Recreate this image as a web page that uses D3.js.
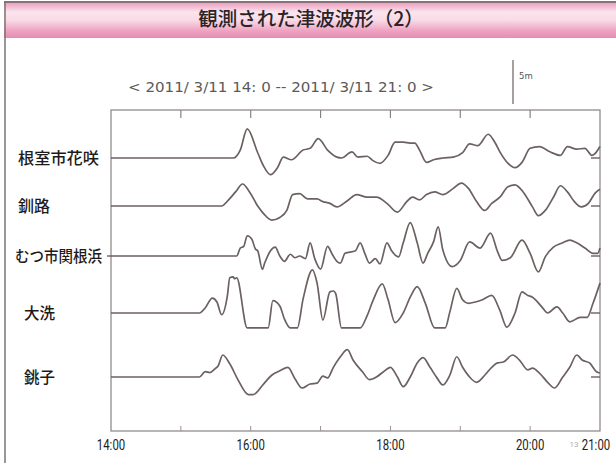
<!DOCTYPE html>
<html>
<head>
<meta charset="utf-8">
<script src="https://cdn.jsdelivr.net/npm/d3@7/dist/d3.min.js"></script>
<style>
  html, body { margin: 0; padding: 0; background: #fff; }
  svg { display: block; }
</style>
</head>
<body>
<svg id="chart" width="616" height="463"></svg>
<script>
// Observed tsunami waveforms, 2011-03-11 14:00 – 21:00.
// Each series: [minutes after 14:00, sea-level deviation in metres]
const stations = ["根室市花咲", "釧路", "むつ市関根浜", "大洗", "銚子"];

const nemuro = [[0,0],[105,0],[111,0.9],[117,3.3],[126,0.6],[131,-0.9],[137,-1.9],[143,-1.1],[148,0.1],
  [155,-0.2],[165,0.9],[171,1.1],[178,2.2],[186,0.9],[194,0.1],[198,0],[207,0.7],[212,0.1],[220,0.2],
  [225,-0.3],[231,-0.6],[238,0.3],[244,1.8],[251,1.8],[257,1.7],[261,1.7],[265,0.9],[271,-0.5],[277,-0.2],
  [285,0],[294,0.1],[302,0.6],[308,1.6],[315,1.4],[324,2.7],[330,1.7],[334,0.7],[341,-0.6],[347,-1.1],
  [353,-0.5],[360,1.1],[368,1.3],[377,0.7],[386,0.3],[392,1.3],[400,1.0],[407,1.1],[413,0.3],[417,0.7],[420,1.3]];

const kushiro = [[0,0],[95,0],[101,0.7],[107,1.6],[113,2.5],[119,1.6],[126,0],[132,-1.0],[138,-1.6],[145,-1.3],
  [151,-0.5],[156,1.3],[162,1.4],[169,0.8],[177,0.8],[182,0.5],[188,0.3],[194,-0.1],[203,0.6],[211,1.3],
  [220,1.0],[228,1.0],[237,0.3],[246,-0.7],[254,0.5],[259,1.0],[265,0.7],[271,1.3],[278,1.6],[285,1.3],
  [294,2.0],[301,2.6],[307,2.0],[314,0.5],[321,-0.5],[327,0.3],[334,1.0],[341,2.2],[347,2.4],[354,1.6],
  [362,-0.1],[367,-1.1],[373,-0.5],[380,1.0],[386,2.3],[392,1.6],[398,0.5],[404,-0.1],[410,0.3],[416,1.5],[420,1.9]];

const mutsu = [[0,0],[108,0],[111,0.9],[114,1.1],[117,2.3],[121,1.9],[124,0.8],[126,0.6],[130,-1.5],[132,-0.8],
  [137,0.6],[141,1.0],[145,0],[149,-0.6],[154,0.2],[158,-0.2],[162,0],[167,-0.3],[171,1.5],[175,-0.3],
  [180,-1.5],[186,1.1],[190,0.2],[194,-0.6],[197,-0.8],[201,0.3],[210,0.6],[214,1.5],[218,0.3],[222,-0.8],
  [227,-0.3],[231,-0.9],[237,1.5],[241,0.6],[247,-0.1],[251,1.5],[257,3.8],[263,1.5],[268,-0.8],[272,0.3],
  [277,1.6],[281,3.3],[285,0.7],[293,-1.2],[300,-0.5],[308,1.6],[317,0.9],[326,2.6],[332,0.5],[336,-0.5],
  [343,-0.2],[353,1.8],[360,0.3],[367,-1.8],[373,-0.1],[380,1.0],[388,1.5],[394,1.8],[400,1.5],[407,0.9],
  [414,0.3],[418,0.3],[420,0.9]];

const oarai = [[0,0],[76,0],[81,0.6],[87,1.7],[91,1.25],[95,-0.2],[100,2.0],[102,4.0],[105,4.1],[106,3.9],
  [108,4.0],[117,-1.7],[135,-1.7],[139,1.4],[145,0.8],[149,-0.7],[154,-1.7],[160,-1.7],[165,1.6],[173,4.9],
  [177,3.4],[182,-0.8],[188,2.4],[191,2.5],[193,2.2],[198,-1.7],[214,-1.7],[220,-0.3],[225,1.4],[233,3.3],
  [238,1.5],[244,-1.1],[251,0],[257,1.8],[263,3.0],[270,1.1],[278,-1.7],[287,-1.7],[291,0.1],[297,2.8],
  [302,1.5],[307,1.1],[313,1.25],[319,1.5],[327,2.0],[334,0.3],[340,-1.6],[347,0],[353,2.4],[358,2.0],
  [362,1.8],[370,0.7],[375,0],[383,0.7],[388,0],[394,-1.0],[403,-0.5],[409,-0.5],[414,1.1],[420,3.4]];

const choshi = [[0,0],[76,0],[81,0.6],[85,0.5],[89,0.9],[92,1.25],[96,2.5],[102,1.5],[109,-0.3],[118,-2.0],
  [122,-2.0],[131,-0.8],[138,0.2],[145,0.7],[152,1.1],[158,-0.2],[164,-1.25],[171,-0.8],[177,-0.7],[182,0.1],
  [186,-0.1],[191,1.1],[197,2.3],[203,3.1],[208,1.9],[216,0.6],[222,-0.3],[228,0],[234,0.6],[240,1.1],
  [246,0],[251,-1.1],[257,0],[263,1.6],[268,2.2],[274,1.1],[280,-0.1],[285,-0.9],[291,0.2],[297,2.3],
  [302,1.1],[308,0],[314,-0.6],[321,0.2],[327,1.1],[332,1.6],[337,1.7],[345,2.5],[351,1.9],[358,0.8],
  [362,1.0],[368,0.45],[375,-0.6],[381,-1.25],[388,0],[394,1.1],[400,2.5],[405,1.9],[411,1.6],[417,0.6],[420,0.45]];

const seriesList = [nemuro, kushiro, mutsu, oarai, choshi];

// Axis ticks: every hour, labelled at these hours
const tickHours = [14, 15, 16, 17, 18, 19, 20, 21];
const labelHours = [14, 16, 18, 20, 21];
const tickLabels = ["14:00", "16:00", "18:00", "20:00", "21:00"];

const rangeText = "< 2011/ 3/11 14: 0 -- 2011/ 3/11 21: 0 >";
const scaleMetres = 5;

// ---- layout ----
const W = 616, H = 463;
const plot = { left: 111, right: 600, top: 110, bottom: 431 };
const rowBaseline = [158, 206, 256, 313, 377];
const rowLabelX = [18, 18, 15, 24, 24];
const rowLabelWidth = [81, 32, 87, 31, 31];
const ink = "#6c6060";

const svg = d3.select("#chart");

// Title banner
const defs = svg.append("defs");
const grad = defs.append("linearGradient").attr("id", "banner").attr("x1", 0).attr("y1", 0).attr("x2", 0).attr("y2", 1);
[["0%", "#ea98bb"], ["28%", "#fbe4ee"], ["50%", "#f9dbe7"], ["80%", "#eea2c1"], ["100%", "#e58db2"]]
  .forEach(([o, c]) => grad.append("stop").attr("offset", o).attr("stop-color", c));

svg.append("rect").attr("x", 4).attr("y", 2).attr("width", W - 4).attr("height", 36).attr("fill", "url(#banner)");
svg.append("line").attr("x1", 4).attr("x2", W).attr("y1", 2).attr("y2", 2).attr("stroke", "#8a7078").attr("stroke-width", 2);
svg.append("line").attr("x1", 5).attr("x2", 5).attr("y1", 1).attr("y2", H).attr("stroke", "#7a7474").attr("stroke-width", 1.5);

svg.append("text")
  .attr("x", 311).attr("y", 26)
  .attr("text-anchor", "middle")
  .attr("font-family", "'Noto Sans CJK JP', sans-serif")
  .attr("font-weight", 500)
  .attr("font-size", 19.5)
  .attr("fill", "#2a2426")
  .text("観測された津波波形（2）");

// Scales
const t0 = new Date(2011, 2, 11, 14, 0);
const t1 = new Date(2011, 2, 11, 21, 0);
const x = d3.scaleTime().domain([t0, t1]).range([plot.left, plot.right]);
const atMinute = m => new Date(t0.getTime() + m * 60000);
const atHour = h => new Date(2011, 2, 11, h, 0);
// metres -> pixel offset (upwards)
const yM = d3.scaleLinear().domain([0, scaleMetres]).range([0, 44]);

// Period caption
svg.append("text")
  .attr("x", 128).attr("y", 92)
  .attr("font-family", "'DejaVu Sans', sans-serif")
  .attr("font-size", 13.5)
  .attr("fill", "#5a5a5a")
  .attr("textLength", 306)
  .attr("lengthAdjust", "spacingAndGlyphs")
  .text(rangeText);

// Vertical scale bar
svg.append("line")
  .attr("x1", 513).attr("x2", 513)
  .attr("y1", 60).attr("y2", 60 + yM(scaleMetres))
  .attr("stroke", ink).attr("stroke-width", 1.2);
svg.append("text")
  .attr("x", 519).attr("y", 79)
  .attr("font-family", "'DejaVu Sans', sans-serif")
  .attr("font-size", 8.5)
  .attr("fill", "#555")
  .text(scaleMetres + "m");

// Frame
svg.append("rect")
  .attr("x", plot.left).attr("y", plot.top)
  .attr("width", plot.right - plot.left).attr("height", plot.bottom - plot.top)
  .attr("fill", "none").attr("stroke", "#8a8282").attr("stroke-width", 1.2);

const inner = tickHours.filter(h => h > 14 && h < 21);
svg.append("g").selectAll("line").data(inner).join("line")
  .attr("x1", h => x(atHour(h))).attr("x2", h => x(atHour(h)))
  .attr("y1", plot.top).attr("y2", plot.top + 8)
  .attr("stroke", "#8a8282").attr("stroke-width", 1.2);
svg.append("g").selectAll("line").data(inner).join("line")
  .attr("x1", h => x(atHour(h))).attr("x2", h => x(atHour(h)))
  .attr("y1", plot.bottom).attr("y2", plot.bottom - 5)
  .attr("stroke", "#9a9292").attr("stroke-width", 1);

// Hour labels in a narrow face, centred under their hour (last one kept on the page)
svg.append("g").selectAll("text").data(labelHours).join("text")
  .attr("transform", h => `translate(${Math.min(x(atHour(h)), W - 20)},450) scale(0.76,1)`)
  .attr("text-anchor", "middle")
  .attr("font-family", "Roboto, 'Liberation Sans', sans-serif")
  .attr("font-size", 15)
  .attr("fill", "#222")
  .text((h, i) => tickLabels[i]);

svg.append("text")
  .attr("x", 574).attr("y", 447)
  .attr("text-anchor", "middle")
  .attr("font-family", "Roboto, sans-serif")
  .attr("font-size", 8)
  .attr("fill", "#b0b0b0")
  .text("13");

// Station labels
svg.append("g").selectAll("text").data(stations).join("text")
  .attr("x", (d, i) => rowLabelX[i])
  .attr("y", (d, i) => rowBaseline[i] + 6)
  .attr("font-family", "'Noto Sans CJK JP', sans-serif")
  .attr("font-weight", 500)
  .attr("font-size", 15.5)
  .attr("textLength", (d, i) => rowLabelWidth[i])
  .attr("lengthAdjust", "spacingAndGlyphs")
  .attr("fill", "#1e1a1a")
  .text(d => d);

// Short baseline marker at the right edge of each trace
svg.append("g").selectAll("line").data(rowBaseline).join("line")
  .attr("x1", plot.right - 9).attr("x2", plot.right)
  .attr("y1", d => d).attr("y2", d => d)
  .attr("stroke", ink).attr("stroke-width", 1.4);
// reference tick left of the むつ trace
svg.append("line")
  .attr("x1", plot.left - 4).attr("x2", plot.left)
  .attr("y1", rowBaseline[2]).attr("y2", rowBaseline[2])
  .attr("stroke", ink).attr("stroke-width", 1.4);

// Waveforms
seriesList.forEach((series, i) => {
  const base = rowBaseline[i];
  const line = d3.line()
    .x(d => x(atMinute(d[0])))
    .y(d => base - yM(d[1]))
    .curve(d3.curveMonotoneX);
  svg.append("path")
    .datum(series)
    .attr("d", line)
    .attr("fill", "none")
    .attr("stroke", ink)
    .attr("stroke-width", 1.7)
    .attr("stroke-linejoin", "round");
});
</script>
</body>
</html>
